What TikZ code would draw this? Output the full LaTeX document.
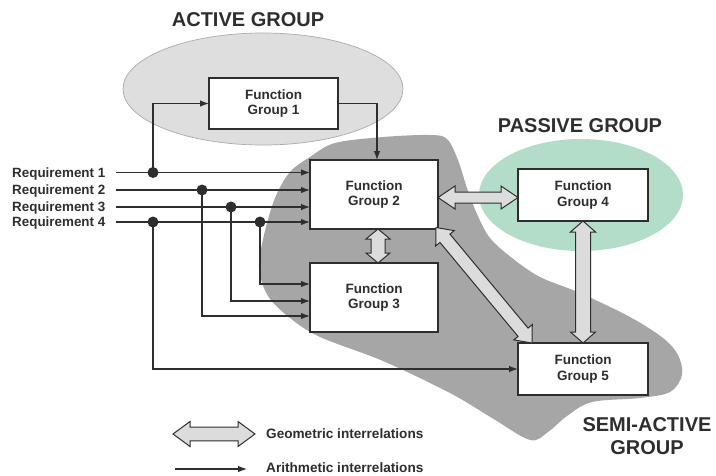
\documentclass[tikz,border=0pt]{standalone}
\usepackage{fontspec}
\setmainfont{Liberation Sans}
\usetikzlibrary{calc,arrows.meta}

\definecolor{ink}{HTML}{2E2E2E}
\definecolor{activefill}{HTML}{DEDEDE}
\definecolor{activeline}{HTML}{ABABAB}
\definecolor{passivefill}{HTML}{B3DDC8}
\definecolor{semifill}{HTML}{A6A6A6}
\definecolor{geofill}{HTML}{DCDCDC}

% Hollow double-headed arrow between two named points.
% #1,#2: ends; #3: head length; #4: half head width; #5: half shaft width
\newcommand\geoarrow[5]{%
  \draw[geo] (#1)
    -- ($(#1)!#3!(#2)!#4!90:(#2)$)
    -- ($(#1)!#3!(#2)!#5!90:(#2)$)
    -- ($(#2)!#3!(#1)!#5!-90:(#1)$)
    -- ($(#2)!#3!(#1)!#4!-90:(#1)$)
    -- (#2)
    -- ($(#2)!#3!(#1)!#4!90:(#1)$)
    -- ($(#2)!#3!(#1)!#5!90:(#1)$)
    -- ($(#1)!#3!(#2)!#5!-90:(#2)$)
    -- ($(#1)!#3!(#2)!#4!-90:(#2)$)
    -- cycle;}

\tikzset{
  fbox/.style={draw=ink, fill=white, line width=1.2pt, text=ink,
    font=\bfseries\fontsize{13.5}{15.5}\selectfont, align=center,
    inner sep=0pt, outer sep=0pt},
  reqlabel/.style={text=ink, font=\bfseries\fontsize{13.4}{15}\selectfont,
    inner sep=0pt},
  grouptitle/.style={text=ink, font=\bfseries\fontsize{20}{23}\selectfont,
    align=center, inner sep=0pt},
  legendtext/.style={text=ink, font=\bfseries\fontsize{13.6}{15}\selectfont,
    inner sep=0pt, anchor=west},
  arr/.style={draw=ink, line width=1.15pt, -{Latex[length=9pt,width=6.5pt]}},
  geo/.style={draw=ink, fill=geofill, line width=1pt, line join=miter},
  junction/.style={circle, fill=ink, inner sep=0pt, minimum size=11pt}
}

\begin{document}
\begin{tikzpicture}[x=1pt,y=-1pt]
\useasboundingbox (0,0) rectangle (716,475);

% group regions
\filldraw[fill=activefill, draw=activeline, line width=0.7pt]
  (263,89) ellipse [x radius=140, y radius=56];
\fill[passivefill] (581,195) ellipse [x radius=102, y radius=56];
\fill[semifill] plot[smooth cycle, tension=0.55] coordinates {
  (310,157) (290,172) (275,198) (264,235) (259,268) (268,296) (290,318)
  (320,337) (383,361) (450,393) (492,418) (530,440) (548,432) (567,416)
  (592,402) (640,398) (670,392) (682,375) (678,355) (663,338) (630,317)
  (580,293) (540,277) (512,258) (490,238) (477,214) (467,188) (458,160)
  (447,139) (430,135) (383,137) (335,143)};

% group titles
\node[grouptitle] (tactive) at (248,19.5) {ACTIVE GROUP};
\node[grouptitle] (tpassive) at (580,125.5) {PASSIVE GROUP};
\node[grouptitle] (tsemi) at (647,436) {SEMI-ACTIVE\\GROUP};

% function groups
\node[fbox, minimum width=129pt, minimum height=51pt] (fg1) at (273.5,103.5) {Function\\Group 1};
\node[fbox, minimum width=128pt, minimum height=69pt] (fg2) at (374,194.5) {Function\\Group 2};
\node[fbox, minimum width=128pt, minimum height=69pt] (fg3) at (374,297.5) {Function\\Group 3};
\node[fbox, minimum width=130pt, minimum height=52pt] (fg4) at (583,195) {Function\\Group 4};
\node[fbox, minimum width=130pt, minimum height=52pt] (fg5) at (583,369) {Function\\Group 5};

% requirements
\node[reqlabel, anchor=base west] (l1) at (12,177) {Requirement 1};
\node[reqlabel, anchor=base west] (l2) at (12,194.5) {Requirement 2};
\node[reqlabel, anchor=base west] (l3) at (12,211.5) {Requirement 3};
\node[reqlabel, anchor=base west] (l4) at (12,226.5) {Requirement 4};
\coordinate (r1) at (116,172.5);
\coordinate (r2) at (116,190);
\coordinate (r3) at (116,207);
\coordinate (r4) at (116,222);

\draw[arr] (r1) -- (r1 -| fg2.west);
\draw[arr] (r2) -- (r2 -| fg2.west);
\draw[arr] (r3) -- (r3 -| fg2.west);
\draw[arr] (r4) -- (r4 -| fg2.west);

% junctions
\node[junction] (d1) at (153,172.5) {};
\node[junction] (d2) at (202,190) {};
\node[junction] (d3) at (231,207) {};
\node[junction] (d4) at (260,222) {};
\node[junction] (d5) at (153,222) {};

% arithmetic interrelations
\draw[arr] (d1.center) |- (fg1.west);
\draw[arr] (fg1.east) -| ($(fg2.north)+(3,0)$);
\draw[arr] (d2.center) |- ($(fg3.west)+(0,18.5)$);
\draw[arr] (d3.center) |- ($(fg3.west)+(0,3.5)$);
\draw[arr] (d4.center) |- ($(fg3.west)+(0,-13.5)$);
\draw[arr] (d5.center) |- (fg5.west);

% geometric interrelations
\coordinate (g24a) at ($(fg2.east)+(0,3)$);
\coordinate (g24b) at (g24a -| fg4.west);
\coordinate (g23a) at ($(fg2.south)+(4,0)$);
\coordinate (g23b) at (g23a |- fg3.north);
\coordinate (g25a) at ($(fg2.south east)+(-2,-1.5)$);
\coordinate (g25b) at ($(fg5.north west)+(14,0)$);
\coordinate (g45a) at (fg4.south);
\coordinate (g45b) at (fg5.north);
\geoarrow{g24a}{g24b}{17pt}{11.5pt}{5.5pt}
\geoarrow{g23a}{g23b}{10pt}{12pt}{7pt}
\geoarrow{g25a}{g25b}{14pt}{12pt}{6.5pt}
\geoarrow{g45a}{g45b}{11pt}{12.5pt}{7.5pt}

% legend
\coordinate (lg1) at (173,434);
\coordinate (lg2) at (255,434);
\geoarrow{lg1}{lg2}{17pt}{12.5pt}{6.8pt}
\node[legendtext] (tgeo) at (266,433.5) {Geometric interrelations};
\coordinate (la1) at (175,469);
\coordinate (la2) at (247,469);
\draw[arr] (la1) -- (la2);
\node[legendtext] (tari) at (266,467.5) {Arithmetic interrelations};
\end{tikzpicture}
\end{document}
